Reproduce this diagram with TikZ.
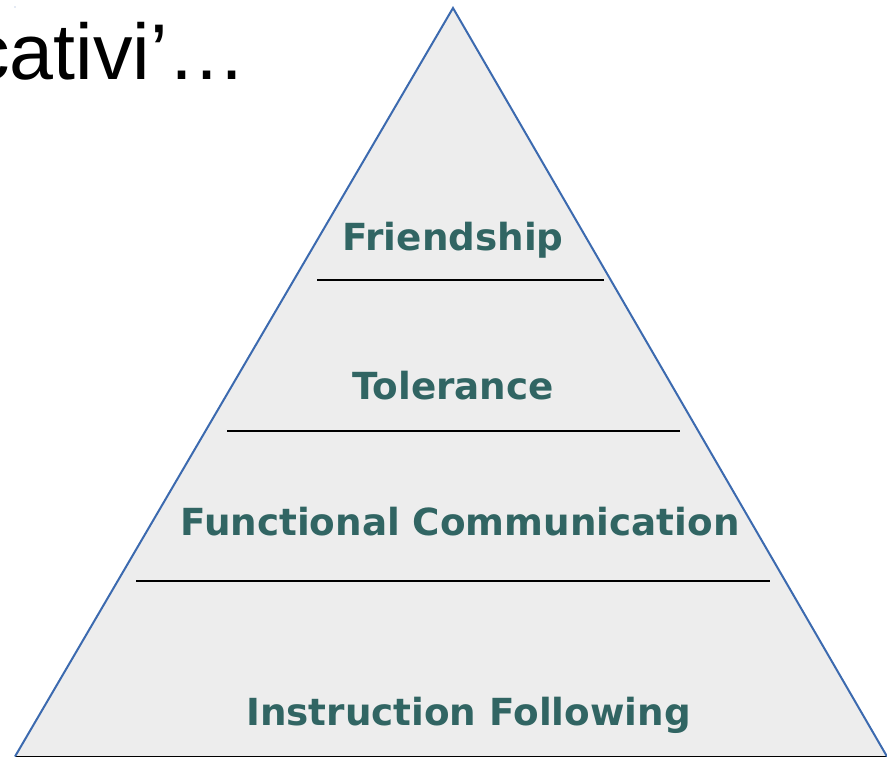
\documentclass[tikz,border=0pt]{standalone}
\usepackage{fontspec}
\setmainfont{DejaVu Sans}
\newfontfamily\arialfont{Liberation Sans}
\definecolor{tealtext}{HTML}{316563}
\definecolor{pyrfill}{HTML}{EDEDED}
\definecolor{pyrline}{HTML}{3C6AAF}
\definecolor{baseline}{HTML}{A9C3E0}
\begin{document}
\begin{tikzpicture}[x=1pt,y=-1pt,
  lvl/.style={font=\fontsize{37.3}{40}\selectfont\bfseries, text=tealtext, inner sep=0pt, anchor=base},
  divider/.style={line width=2pt, black}]
\useasboundingbox (0,0) rectangle (887,757);
\coordinate (apex) at (453,8);
\coordinate (bl) at (15,756.5);
\coordinate (br) at (887,756.5);
\fill[pyrfill] (apex) -- (br) -- (bl) -- cycle;
\draw[baseline, line width=1.2pt] (bl) -- (br);
\draw[pyrline, line width=2pt, line join=miter] (bl) -- (apex) -- (br);
\coordinate (d1l) at (317,280); \coordinate (d1r) at (604,280);
\coordinate (d2l) at (227,431); \coordinate (d2r) at (680,431);
\coordinate (d3l) at (136,581); \coordinate (d3r) at (770,581);
\draw[divider] (d1l) -- (d1r);
\draw[divider] (d2l) -- (d2r);
\draw[divider] (d3l) -- (d3r);
\node[lvl] (friend) at (453,251) {Friendship};
\node[lvl] (toler) at (453,399) {Tolerance};
\node[lvl] (func) at (460,535) {Functional Communication};
\node[lvl] (instr) at (468.5,725) {Instruction Following};
\node[font=\arialfont\fontsize{79}{86}\selectfont, anchor=base east, inner sep=0pt] (title) at (247,80) {cativi’…};
\fill[pyrline!60] (15,7) circle (0.6);
\end{tikzpicture}
\end{document}
